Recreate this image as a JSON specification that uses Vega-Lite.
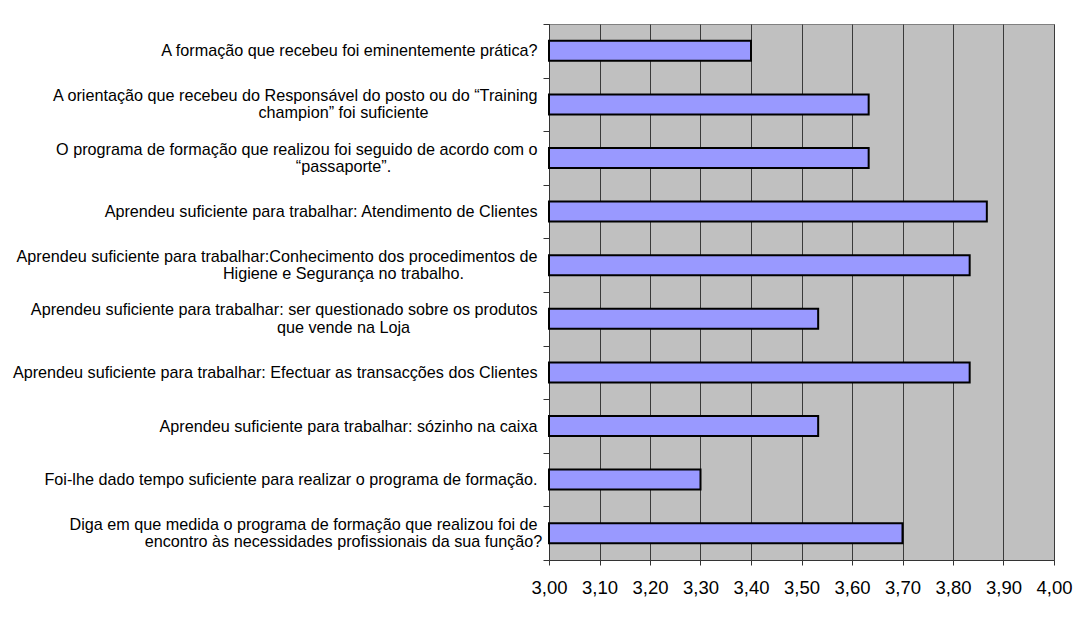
{
  "$schema": "https://vega.github.io/schema/vega-lite/v6.json",
  "width": 505,
  "height": 536,
  "autosize": {"type": "none"},
  "padding": {"left": 549, "top": 24, "right": 25, "bottom": 62},
  "background": "white",
  "data": {
    "values": [
      {"pergunta": "A formação que recebeu foi eminentemente prática?", "media": 3.4},
      {"pergunta": "A orientação que recebeu do Responsável do posto ou do “Training|champion” foi suficiente", "media": 3.633},
      {"pergunta": "O programa de formação que realizou foi seguido de acordo com o|“passaporte”.", "media": 3.633},
      {"pergunta": "Aprendeu suficiente para trabalhar: Atendimento de Clientes", "media": 3.867},
      {"pergunta": "Aprendeu suficiente para trabalhar:Conhecimento dos procedimentos de|Higiene e Segurança no trabalho.", "media": 3.833},
      {"pergunta": "Aprendeu suficiente para trabalhar: ser questionado sobre os produtos|que vende na Loja", "media": 3.533},
      {"pergunta": "Aprendeu suficiente para trabalhar: Efectuar as transacções dos Clientes", "media": 3.833},
      {"pergunta": "Aprendeu suficiente para trabalhar: sózinho na caixa", "media": 3.533},
      {"pergunta": "Foi-lhe dado tempo suficiente para realizar o programa de formação.", "media": 3.3},
      {"pergunta": "Diga em que medida o programa de formação que realizou foi de|encontro às necessidades profissionais da sua função?", "media": 3.7}
    ]
  },
  "encoding": {
    "x": {
      "field": "media",
      "type": "quantitative",
      "scale": {"domain": [3, 4], "zero": false, "nice": false},
      "axis": {
        "title": null,
        "values": [3, 3.1, 3.2, 3.3, 3.4, 3.5, 3.6, 3.7, 3.8, 3.9, 4],
        "labelExpr": "replace(format(datum.value, '.2f'), '.', ',')",
        "labelFont": "Liberation Sans",
        "labelFontSize": 18.5,
        "labelColor": "#000000",
        "labelBaseline": "top",
        "labelPadding": 13,
        "labelFlush": false,
        "tickSize": 5,
        "tickColor": "#333333",
        "domainColor": "#333333",
        "grid": true,
        "gridColor": "#3a3a3a",
        "gridWidth": 1
      }
    },
    "x2": {"datum": 3}
  },
  "layer": [
    {
      "mark": {"type": "bar", "size": 20, "fill": "#9999FF", "stroke": "#000000", "strokeWidth": 2},
      "encoding": {
        "y": {
          "field": "pergunta",
          "type": "nominal",
          "sort": null,
          "scale": {"paddingInner": 0, "paddingOuter": 0},
          "axis": {
            "title": null,
            "orient": "left",
            "tickBand": "extent",
            "tickSize": 6,
            "tickColor": "#333333",
            "domainColor": "#333333",
            "labelPadding": 6,
            "labelAlign": "right",
            "labelLimit": 0,
            "labelFont": "Liberation Sans",
            "labelFontSize": 16.2,
            "labelColor": "#000000",
            "labelExpr": "isString(datum.value) ? split(datum.value, '|')[0] : ''",
            "labelOffset": {"condition": {"test": "isString(datum.value) && indexof(datum.value, '|') >= 0", "value": -9}, "value": 0}
          }
        }
      }
    },
    {
      "mark": {"type": "bar", "size": 20, "opacity": 0},
      "encoding": {
        "y": {
          "field": "pergunta",
          "type": "nominal",
          "sort": null,
          "axis": {
            "title": null,
            "orient": "left",
            "ticks": false,
            "domain": false,
            "labelPadding": 206,
            "labelAlign": "center",
            "labelLimit": 0,
            "labelFont": "Liberation Sans",
            "labelFontSize": 16.2,
            "labelColor": "#000000",
            "labelExpr": "isString(datum.value) && indexof(datum.value, '|') >= 0 ? split(datum.value, '|')[1] : ''",
            "labelOffset": 9
          }
        }
      }
    }
  ],
  "resolve": {"axis": {"y": "independent"}},
  "config": {
    "view": {"fill": "#C0C0C0", "stroke": "#808080", "strokeWidth": 1}
  }
}
